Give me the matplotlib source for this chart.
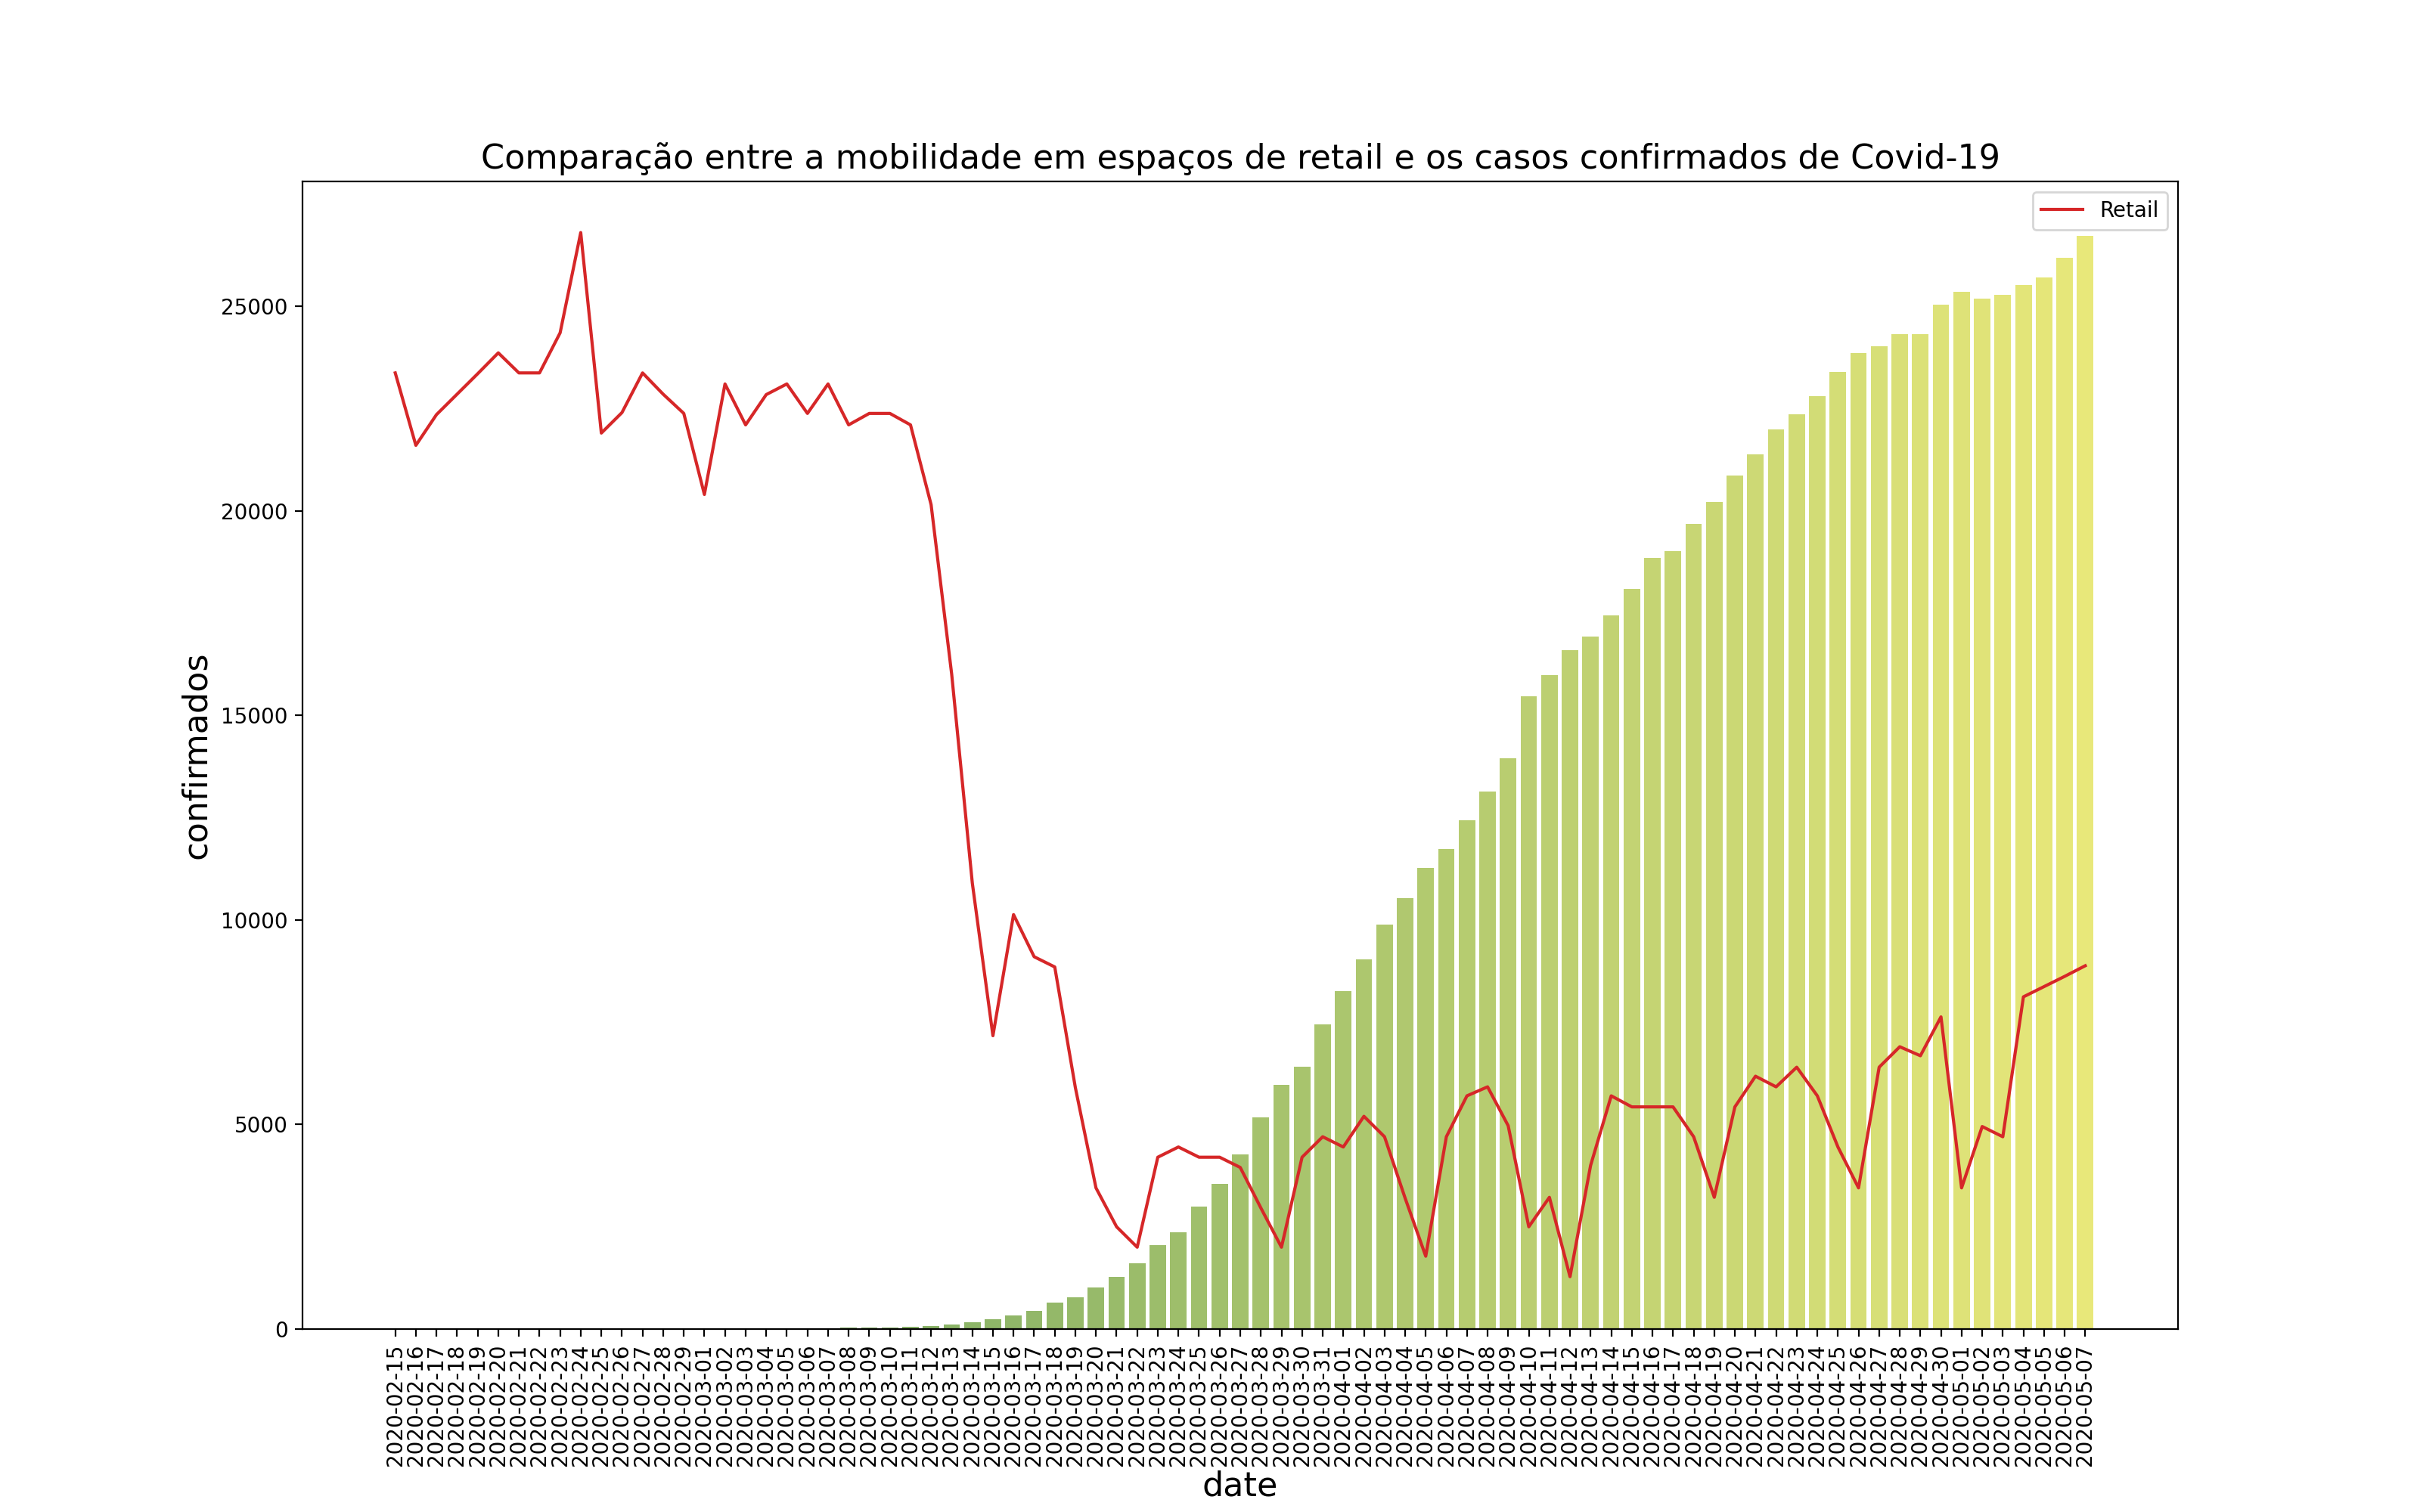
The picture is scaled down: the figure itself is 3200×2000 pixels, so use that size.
import matplotlib
matplotlib.use("Agg")
import matplotlib.pyplot as plt
from matplotlib.colors import LinearSegmentedColormap
import numpy as np
import pandas as pd

dates = pd.date_range("2020-02-15", "2020-05-07").strftime("%Y-%m-%d").tolist()

confirmados = [0] * 16 + [
    2, 4, 6, 9, 13, 21, 30, 39, 41, 59, 78, 112, 169, 245, 331, 448, 642, 785,
    1020, 1280, 1600, 2060, 2362, 2995, 3544, 4268, 5170, 5962, 6408, 7443,
    8251, 9034, 9886, 10524, 11278, 11730, 12442, 13141, 13956, 15472, 15987,
    16585, 16934, 17448, 18091, 18841, 19022, 19685, 20206, 20863, 21379,
    21982, 22353, 22797, 23392, 23864, 24027, 24322, 24322, 25045, 25351,
    25190, 25282, 25524, 25702, 26182, 26715,
]

# retail mobility, already rescaled onto the confirmed-cases axis
retail = [
    23370, 21600, 22350, 22850, 23350, 23860, 23370, 23370, 24350, 26800,
    21900, 22400, 23370, 22850, 22380, 20400, 23100, 22100, 22840, 23100,
    22380, 23100, 22100, 22380, 22380, 22100, 20150, 16000, 10900, 7170,
    10130, 9100, 8850, 5900, 3450, 2500, 2000, 4200, 4450, 4200,
    4200, 3950, 2960, 2000, 4200, 4700, 4450, 5200, 4700, 3200,
    1780, 4700, 5700, 5920, 4970, 2500, 3220, 1280, 4000, 5700,
    5430, 5430, 5430, 4700, 3220, 5430, 6180, 5920, 6400, 5700,
    4450, 3450, 6400, 6900, 6680, 7630, 3450, 4950, 4700, 8120,
    8370, 8620, 8880,
]

cmap = LinearSegmentedColormap.from_list("bars", ["#5e9a5e", "#e8e87a"])
colors = [cmap(i / (len(dates) - 1)) for i in range(len(dates))]

fig, ax = plt.subplots(figsize=(16, 10))
fig.subplots_adjust(left=0.125, right=0.9, bottom=0.121, top=0.88)
x = np.arange(len(dates))
ax.bar(x, confirmados, color=colors, width=0.8)
ax.plot(x, retail, color="#d62728", linewidth=1.5, label="Retail")
ax.set_xticks(x)
ax.set_xticklabels(dates, rotation=90, fontsize=10)
ax.set_xlim(-4.5, len(dates) + 3.5)
ax.set_ylim(0, 28050)
ax.set_title("Comparação entre a mobilidade em espaços de retail e os casos confirmados de Covid-19", fontsize=16)
ax.set_xlabel("date", fontsize=16, labelpad=2)
ax.set_ylabel("confirmados", fontsize=16)
ax.legend(loc="upper right")
fig.savefig("out.png", dpi=200)
